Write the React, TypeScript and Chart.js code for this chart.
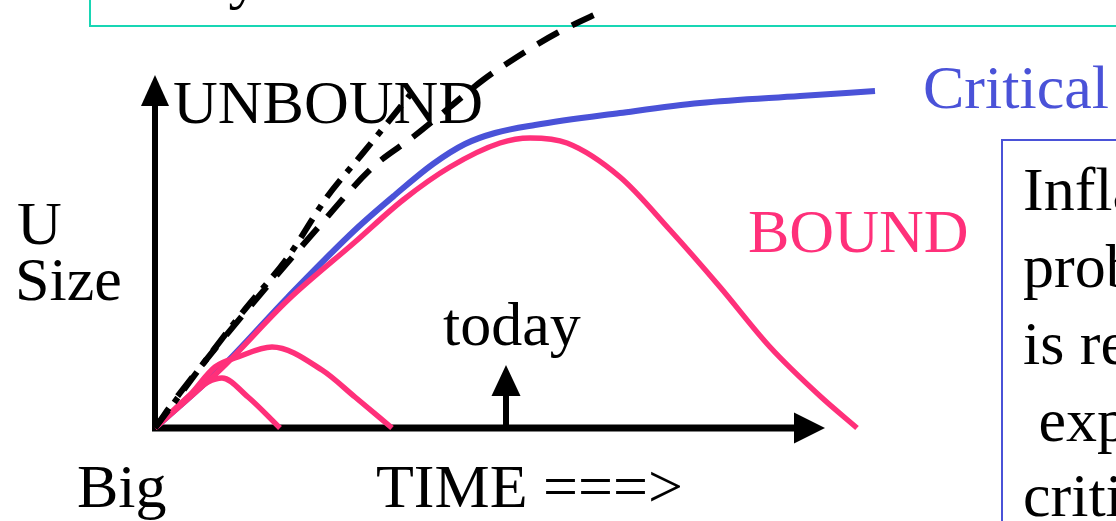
import React, { useEffect, useRef } from "react";
import { Chart, registerables } from "chart.js";

Chart.register(...registerables);

// ---- data (x = time, y = universe size; arbitrary units) ----
const criticalX = [0, 6.7, 13.3, 20, 24, 27.8, 31, 34, 38, 46.5, 54.5, 64.5, 72];
const criticalY = [0, 6.1, 13.1, 19.8, 23.3, 26.4, 28.4, 29.5, 30.3, 31.5, 32.5, 33.2, 33.7];

const boundX = [0, 6.7, 13.3, 20, 24.8, 29.5, 34.5, 37.5, 41.2, 46.5, 51.5, 56.5, 61.5, 66.5, 70.2];
const boundY = [0, 6.0, 12.8, 18.6, 22.8, 26.1, 28.5, 29.0, 28.5, 25.1, 19.8, 14.1, 8.1, 3.2, 0];

const boundSmallX = [0, 3.5, 5.3, 6.7, 9.3, 12.5];
const boundSmallY = [0, 3.3, 4.6, 5.0, 3.1, 0];

const boundMidX = [0, 3.5, 6, 8.3, 11.7, 16.7, 20, 23.7];
const boundMidY = [0, 3.3, 6.1, 7.1, 8.1, 5.8, 3.1, 0];

const unboundX = [0, 2.5, 16.7, 21.8, 25.8, 29.5, 32.8, 36.2, 40.2, 45.2];
const unboundY = [0, 3.5, 20.5, 26.1, 29.1, 32.1, 34.8, 37.1, 39.5, 41.9];

const dashDotX = [0, 8.7, 13.3, 17.2, 20.8, 25.5];
const dashDotY = [0, 11.5, 17.1, 23.1, 27.5, 33.3];

// axis extents / "today" marker (data units)
const xAxisEnd = 67;
const yAxisEnd = 35.3;
const todayX = 35.1;
const todayTip = 6.3;

const BLUE = "rgb(74,82,216)";
const PINK = "rgb(255,48,122)";
const TEAL = "rgb(24,214,180)";
const FONT = '"Liberation Serif", "Times New Roman", serif';

const pts = (xs: number[], ys: number[]) => xs.map((x, i) => ({ x, y: ys[i] }));

function Label(props: { text: string; left: number; baseline: number; color?: string }) {
  return (
    <div
      style={{
        position: "absolute",
        left: props.left,
        top: props.baseline - 52,
        font: `62px ${FONT}`,
        lineHeight: "62px",
        whiteSpace: "pre",
        color: props.color || "#000",
      }}
    >
      {props.text}
    </div>
  );
}

const axesPlugin = {
  id: "slideAxes",
  beforeDatasetsDraw(chart: any) {
    const { ctx, scales } = chart;
    const xs = scales.x;
    const ys = scales.y;
    const ox = xs.getPixelForValue(0);
    const oy = ys.getPixelForValue(0);
    const xe = xs.getPixelForValue(xAxisEnd);
    const ye = ys.getPixelForValue(yAxisEnd);
    ctx.save();
    ctx.fillStyle = "#000";
    ctx.strokeStyle = "#000";
    ctx.lineCap = "butt";
    // y axis
    ctx.lineWidth = 6;
    ctx.beginPath();
    ctx.moveTo(ox, oy + 3);
    ctx.lineTo(ox, ye + 28);
    ctx.stroke();
    ctx.beginPath();
    ctx.moveTo(ox, ye);
    ctx.lineTo(ox - 14, ye + 31);
    ctx.lineTo(ox + 14, ye + 31);
    ctx.closePath();
    ctx.fill();
    // x axis
    ctx.lineWidth = 7;
    ctx.beginPath();
    ctx.moveTo(ox - 3, oy);
    ctx.lineTo(xe - 28, oy);
    ctx.stroke();
    ctx.beginPath();
    ctx.moveTo(xe, oy);
    ctx.lineTo(xe - 31, oy - 15.5);
    ctx.lineTo(xe - 31, oy + 15.5);
    ctx.closePath();
    ctx.fill();
    // today arrow
    const tx = xs.getPixelForValue(todayX);
    const tt = ys.getPixelForValue(todayTip);
    ctx.lineWidth = 6;
    ctx.beginPath();
    ctx.moveTo(tx, oy);
    ctx.lineTo(tx, tt + 28);
    ctx.stroke();
    ctx.beginPath();
    ctx.moveTo(tx, tt);
    ctx.lineTo(tx - 14.5, tt + 31);
    ctx.lineTo(tx + 14.5, tt + 31);
    ctx.closePath();
    ctx.fill();
    ctx.restore();
  },
};

export default function App() {
  const ref = useRef<HTMLCanvasElement>(null);

  useEffect(() => {
    if (!ref.current) return;
    const line = (data: any, color: string, width: number, dash: number[] = []) => ({
      data,
      borderColor: color,
      borderWidth: width,
      borderDash: dash,
      borderCapStyle: "butt",
      borderJoinStyle: "round",
      pointRadius: 0,
      fill: false,
      cubicInterpolationMode: "monotone",
    });
    const chart = new Chart(ref.current, {
      type: "line",
      data: {
        datasets: [
          line(pts(unboundX, unboundY), "#000", 6, [24, 15]),
          line(pts(dashDotX, dashDotY), "#000", 6, [22, 10, 6, 10]),
          line(pts(boundSmallX, boundSmallY), PINK, 5.5),
          line(pts(boundMidX, boundMidY), PINK, 5.5),
          line(pts(boundX, boundY), PINK, 5.5),
          line(pts(criticalX, criticalY), BLUE, 6),
        ] as any,
      },
      options: {
        responsive: false,
        animation: false,
        devicePixelRatio: 1,
        layout: { padding: 0 },
        plugins: { legend: { display: false }, tooltip: { enabled: false }, title: { display: false } },
        scales: {
          x: { type: "linear", display: false, min: -15.5, max: 96.1 },
          y: { type: "linear", display: false, min: -9.3, max: 42.8 },
        },
      },
      plugins: [axesPlugin],
    } as any);
    return () => chart.destroy();
  }, []);

  return (
    <div
      style={{
        position: "fixed",
        left: 0,
        top: 0,
        width: 1116,
        height: 521,
        overflow: "hidden",
        background: "#fff",
      }}
    >
      {/* top text box (cut off) */}
      <div
        style={{
          position: "absolute",
          left: 89,
          top: -100,
          width: 1100,
          height: 127,
          boxSizing: "border-box",
          border: `2px solid ${TEAL}`,
        }}
      />
      <Label text="Why" left={139} baseline={-3} />
      {/* right text box (cut off) */}
      <div
        style={{
          position: "absolute",
          left: 1001,
          top: 139,
          width: 400,
          height: 500,
          boxSizing: "border-box",
          border: `2px solid ${BLUE}`,
        }}
      />
      <Label text="Inflation" left={1023} baseline={210} />
      <Label text="problem" left={1023} baseline={287} />
      <Label text="is resolved" left={1023} baseline={364} />
      <Label text=" expansion" left={1023} baseline={441} />
      <Label text="critical" left={1023} baseline={516} />

      <Label text="UNBOUND" left={173} baseline={123} />
      <Label text="Critical" left={923} baseline={108} color={BLUE} />
      <Label text="BOUND" left={748} baseline={252} color={PINK} />
      <Label text="today" left={443} baseline={345} />
      <Label text="U" left={17} baseline={244} />
      <Label text="Size" left={15} baseline={300} />
      <Label text="Big" left={77} baseline={507} />
      <Label text="TIME ===>" left={376} baseline={507} />

      <canvas ref={ref} width={1116} height={521} style={{ position: "absolute", left: 0, top: 0 }} />
    </div>
  );
}
